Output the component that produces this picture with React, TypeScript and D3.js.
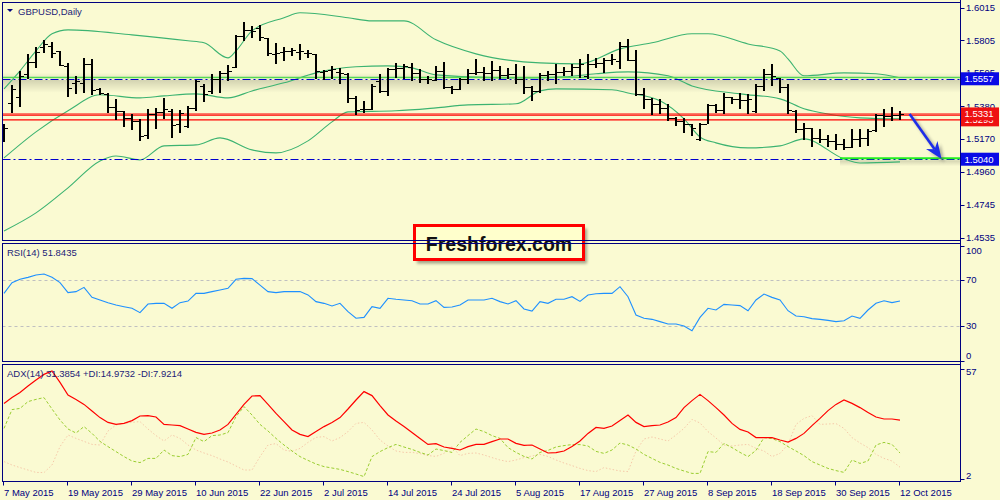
import React, { useEffect } from 'react';
import * as d3 from 'd3';

// ---------- DATA ----------
const symbolTitle = 'GBPUSD,Daily';
const rsiTitle = 'RSI(14) 51.8435';
const adxTitle = 'ADX(14) 31.3854 +DI:14.9732 -DI:7.9214';
const brandText = 'Freshforex.com';

const dateLabels = ['7 May 2015', '19 May 2015', '29 May 2015', '10 Jun 2015', '22 Jun 2015', '2 Jul 2015', '14 Jul 2015', '24 Jul 2015', '5 Aug 2015', '17 Aug 2015', '27 Aug 2015', '8 Sep 2015', '18 Sep 2015', '30 Sep 2015', '12 Oct 2015'];
const dateLabelBars = [0, 8, 16, 24, 32, 40, 48, 56, 64, 72, 80, 88, 96, 104, 112];

const openP = [1.5190,1.5402,1.5441,1.5589,1.5666,1.5762,1.5769,1.5736,1.5640,1.5531,1.5531,1.5653,1.5492,1.5460,1.5376,1.5351,1.5306,1.5286,1.5196,1.5331,1.5344,1.5351,1.5267,1.5254,1.5370,1.5511,1.5479,1.5556,1.5595,1.5634,1.5833,1.5871,1.5884,1.5820,1.5717,1.5730,1.5736,1.5730,1.5724,1.5717,1.5601,1.5614,1.5601,1.5589,1.5434,1.5364,1.5364,1.5544,1.5479,1.5621,1.5627,1.5634,1.5595,1.5556,1.5550,1.5608,1.5505,1.5492,1.5556,1.5595,1.5601,1.5595,1.5614,1.5582,1.5589,1.5556,1.5505,1.5479,1.5582,1.5589,1.5601,1.5608,1.5634,1.5576,1.5653,1.5659,1.5679,1.5672,1.5769,1.5679,1.5460,1.5428,1.5396,1.5370,1.5306,1.5286,1.5267,1.5171,1.5267,1.5389,1.5357,1.5441,1.5428,1.5421,1.5351,1.5511,1.5589,1.5563,1.5505,1.5351,1.5235,1.5241,1.5177,1.5171,1.5158,1.5138,1.5119,1.5171,1.5177,1.5229,1.5325,1.5319,1.5325];
const highP = [1.5267,1.5518,1.5608,1.5717,1.5762,1.5807,1.5794,1.5736,1.5659,1.5576,1.5691,1.5685,1.5499,1.5466,1.5428,1.5351,1.5331,1.5299,1.5364,1.5370,1.5434,1.5364,1.5357,1.5383,1.5550,1.5524,1.5589,1.5608,1.5647,1.5839,1.5923,1.5897,1.5904,1.5820,1.5788,1.5762,1.5756,1.5781,1.5743,1.5717,1.5614,1.5640,1.5627,1.5595,1.5447,1.5415,1.5524,1.5589,1.5627,1.5659,1.5653,1.5659,1.5621,1.5576,1.5640,1.5666,1.5511,1.5563,1.5621,1.5685,1.5634,1.5672,1.5640,1.5627,1.5653,1.5640,1.5511,1.5595,1.5608,1.5653,1.5634,1.5653,1.5685,1.5717,1.5691,1.5691,1.5717,1.5794,1.5814,1.5743,1.5499,1.5434,1.5428,1.5396,1.5312,1.5306,1.5267,1.5274,1.5396,1.5396,1.5466,1.5441,1.5466,1.5460,1.5524,1.5621,1.5653,1.5563,1.5524,1.5357,1.5274,1.5241,1.5235,1.5196,1.5203,1.5171,1.5235,1.5235,1.5235,1.5331,1.5364,1.5376,1.5351];
const lowP = [1.5151,1.5338,1.5376,1.5556,1.5627,1.5724,1.5691,1.5640,1.5441,1.5460,1.5466,1.5454,1.5454,1.5338,1.5293,1.5248,1.5229,1.5158,1.5171,1.5235,1.5299,1.5177,1.5209,1.5241,1.5351,1.5409,1.5460,1.5466,1.5544,1.5627,1.5801,1.5820,1.5801,1.5704,1.5653,1.5672,1.5704,1.5679,1.5691,1.5556,1.5550,1.5556,1.5524,1.5402,1.5325,1.5338,1.5357,1.5466,1.5447,1.5563,1.5556,1.5544,1.5531,1.5524,1.5544,1.5492,1.5460,1.5486,1.5524,1.5582,1.5544,1.5544,1.5556,1.5556,1.5524,1.5460,1.5415,1.5466,1.5544,1.5524,1.5576,1.5576,1.5563,1.5556,1.5627,1.5595,1.5647,1.5621,1.5672,1.5447,1.5364,1.5325,1.5331,1.5286,1.5254,1.5209,1.5190,1.5158,1.5267,1.5338,1.5331,1.5396,1.5364,1.5331,1.5338,1.5479,1.5511,1.5466,1.5331,1.5209,1.5164,1.5119,1.5145,1.5119,1.5100,1.5100,1.5113,1.5119,1.5126,1.5216,1.5248,1.5286,1.5293];
const closeP = [1.5241,1.5492,1.5576,1.5666,1.5730,1.5781,1.5724,1.5647,1.5499,1.5544,1.5653,1.5486,1.5466,1.5376,1.5351,1.5306,1.5286,1.5190,1.5331,1.5344,1.5364,1.5261,1.5338,1.5370,1.5544,1.5460,1.5556,1.5595,1.5608,1.5833,1.5871,1.5865,1.5827,1.5724,1.5724,1.5736,1.5743,1.5736,1.5724,1.5608,1.5608,1.5621,1.5595,1.5434,1.5357,1.5364,1.5511,1.5479,1.5621,1.5627,1.5640,1.5595,1.5556,1.5556,1.5608,1.5505,1.5492,1.5556,1.5595,1.5601,1.5595,1.5614,1.5582,1.5589,1.5556,1.5505,1.5479,1.5582,1.5589,1.5601,1.5608,1.5634,1.5653,1.5653,1.5659,1.5679,1.5685,1.5769,1.5679,1.5460,1.5428,1.5396,1.5370,1.5306,1.5286,1.5267,1.5241,1.5267,1.5389,1.5357,1.5441,1.5428,1.5421,1.5428,1.5511,1.5589,1.5576,1.5505,1.5357,1.5235,1.5241,1.5177,1.5171,1.5158,1.5138,1.5119,1.5171,1.5177,1.5222,1.5325,1.5319,1.5325,1.5331];

// Bollinger bands, read at selected bars
const upperBars = [0,2,4,6,8,16,23,25,28,29,31,35,37,43,46,50,54,59,67,72,77,81,86,88,93,97,98,100,105,109,112];
const upperBand = [1.5492,1.5608,1.5736,1.5846,1.5871,1.5839,1.5801,1.5788,1.5691,1.5736,1.5865,1.5949,1.5981,1.5949,1.5929,1.5929,1.5807,1.5717,1.5659,1.5653,1.5749,1.5788,1.5846,1.5846,1.5781,1.5736,1.5685,1.5576,1.5595,1.5589,1.5563];
const middleBars = [0,4,8,12,17,20,24,28,31,35,39,44,48,51,54,62,66,70,74,78,83,86,92,97,100,103,107,112];
const middleBand = [1.5048,1.5216,1.5351,1.5454,1.5434,1.5447,1.5460,1.5434,1.5479,1.5531,1.5595,1.5634,1.5640,1.5627,1.5582,1.5563,1.5563,1.5569,1.5589,1.5601,1.5576,1.5511,1.5460,1.5428,1.5364,1.5331,1.5306,1.5299];
const lowerBars = [0,4,8,12,14,17,20,24,27,31,34,38,41,43,49,54,58,64,67,69,76,78,82,85,87,89,93,97,100,105,107,112];
const lowerBand = [1.4579,1.4695,1.4856,1.5029,1.5061,1.5036,1.5126,1.5132,1.5177,1.5100,1.5081,1.5158,1.5280,1.5344,1.5351,1.5370,1.5389,1.5396,1.5479,1.5492,1.5486,1.5466,1.5415,1.5299,1.5183,1.5145,1.5113,1.5126,1.5171,1.5042,1.5016,1.5023];

const rsi = [58.4,67.7,70.6,72.3,74.3,75.2,72.3,67.7,59.0,59.9,63.6,54.9,52.6,50.3,48.3,46.8,45.4,41.6,49.1,49.7,49.7,45.4,50.3,51.7,58.4,58.4,59.9,61.3,62.8,70.6,71.4,71.2,65.6,59.9,59.0,59.9,59.9,59.9,57.0,51.2,49.7,47.4,49.7,42.5,36.7,37.5,46.8,45.4,54.1,53.2,52.6,52.0,49.1,49.1,52.0,46.2,46.5,48.3,52.6,52.6,52.6,54.1,51.2,49.1,52.0,44.8,43.0,51.2,49.7,53.2,53.2,55.5,51.4,57.0,58.1,58.4,58.4,64.2,55.5,39.6,36.7,35.8,33.8,31.7,31.7,30.0,25.9,37.5,45.4,43.9,48.8,48.3,47.7,43.3,52.6,57.8,54.9,52.6,43.3,38.7,38.1,36.4,35.8,34.9,33.8,34.6,38.7,36.7,43.9,49.7,52.0,50.3,51.8];
const adx = [39.8,42.7,45.3,48.5,51.5,54.3,56.0,50.3,44.0,41.7,39.3,36.0,32.7,30.3,29.3,29.8,31.2,33.5,33.7,33.0,29.3,29.0,28.7,27.0,25.3,24.3,25.0,26.5,29.3,34.3,39.3,43.5,43.7,39.3,34.8,30.7,26.5,24.3,23.2,25.7,28.2,30.2,32.7,37.0,41.5,45.7,43.7,38.7,34.0,31.0,28.2,25.2,22.3,19.3,19.7,18.0,17.3,16.5,18.2,19.3,19.3,20.7,22.0,22.0,19.8,18.8,19.0,17.0,15.0,15.2,16.0,18.2,21.0,24.8,27.8,27.3,28.5,31.3,34.0,30.3,28.2,28.7,29.0,30.5,32.7,37.7,41.2,44.3,41.2,37.7,34.0,29.8,26.8,25.5,22.7,22.7,22.7,21.5,20.5,22.3,24.8,28.7,32.3,36.2,39.3,41.5,39.8,37.7,35.3,33.0,32.0,32.0,31.4];
const plusDI = [27.3,36.7,37.3,40.7,41.8,42.7,37.0,31.5,27.0,25.0,28.2,24.8,20.8,18.2,15.7,13.2,11.0,10.2,12.3,12.3,16.5,13.7,13.2,14.3,22.7,20.7,23.7,24.0,25.2,33.2,38.2,34.0,29.3,26.0,22.3,19.0,16.0,13.2,11.3,9.5,8.2,7.5,6.8,5.7,4.5,3.2,13.2,15.7,17.7,19.3,18.0,16.8,15.3,14.0,17.0,16.2,15.3,20.3,23.7,27.0,25.7,23.7,22.3,17.7,15.3,13.3,12.0,15.3,16.3,18.0,18.7,19.2,19.2,18.5,15.8,14.8,16.5,20.0,19.0,17.0,14.3,12.3,10.3,9.0,7.3,6.0,4.8,4.8,15.7,15.3,19.8,17.7,15.3,13.2,16.3,22.7,22.2,20.7,18.2,16.0,13.7,10.7,9.0,7.3,6.2,5.3,11.5,9.8,11.0,19.0,20.3,19.3,14.97];
const minusDI = [10.7,9.0,7.7,6.5,5.3,5.2,9.0,18.2,24.0,22.3,20.8,19.3,19.0,26.0,29.0,29.8,30.3,30.7,27.0,23.7,21.0,24.0,22.3,19.0,16.5,15.0,13.7,12.0,10.5,8.5,6.5,6.5,13.2,19.0,19.7,16.5,15.8,17.3,20.3,22.8,23.2,21.0,22.7,25.7,29.8,30.3,26.5,21.5,18.5,16.0,15.3,15.3,14.7,13.7,13.3,14.8,18.2,13.7,14.8,15.0,14.0,12.7,11.5,10.7,11.5,12.7,13.5,14.3,13.3,11.5,10.0,8.7,7.3,6.2,5.7,7.7,6.8,6.0,5.7,16.0,22.0,23.0,22.0,21.0,24.0,27.3,31.8,30.0,25.7,22.5,19.0,18.5,19.0,19.3,17.3,16.0,13.2,14.8,19.3,29.3,32.3,33.7,29.3,29.5,29.7,27.3,22.7,20.0,17.7,14.3,12.3,11.0,7.92];

const priceTicks = [1.6015, 1.5805, 1.5595, 1.5380, 1.5170, 1.4960, 1.4745, 1.4535];
const rsiTicks = [100, 70, 30, 0];
const rsiLevels = [70, 30];
const adxTicks = [57, 2];

const blueLevels = [1.5557, 1.5040];
const greenLevel = 1.5565;
const redLevels = [1.5331, 1.5323, 1.5293];
const supportLevel = { price: 1.5046, fromBar: 104.5 };
const arrowFrom = { bar: 113.2, price: 1.5331 };
const arrowTo = { bar: 117.2, price: 1.5042 };
const axisMarkers = [
  { price: 1.5293, color: '#EE1111' },
  { price: 1.5331, color: '#EE1111' },
  { price: 1.5557, color: '#0A0AE6' },
  { price: 1.5040, color: '#0A0AE6' },
];

// ---------- LAYOUT ----------
const FONT = "'Liberation Sans', Arial, sans-serif";
const NAVY = '#000080';
const BG = '#FAFAD2';
const LEFT = 2.5, RIGHT = 960.5;
const MAIN = { top: 2.5, bottom: 240.5 };
const RSIP = { top: 243.5, bottom: 361.5 };
const ADXP = { top: 364.5, bottom: 481.5 };

export default function App() {
  useEffect(() => {
    document.body.style.margin = '0';
  }, []);

  const x = d3.scaleLinear().domain([0, 112]).range([4, 900]);
  const y = d3.scaleLinear().domain([1.4535, 1.6015]).range([237.8, 7.5]);
  const yR = d3.scaleLinear().domain([0, 100]).range([360.5, 245.5]);
  const yA = d3.scaleLinear().domain([2, 57]).range([479, 369]);
  const fmt = d3.format('.4f');

  const bandLine = (bars: number[], vals: number[]) =>
    d3.line<number>().x((_, i) => x(bars[i])).y((v) => y(v)).curve(d3.curveMonotoneX)(vals) || '';
  const seriesLine = (vals: number[], sc: d3.ScaleLinear<number, number>) =>
    d3.line<number>().x((_, i) => x(i)).y((v) => sc(v))(vals) || '';

  // arrow geometry
  const ax0 = x(arrowFrom.bar), ay0 = y(arrowFrom.price);
  const ax1 = x(arrowTo.bar), ay1 = y(arrowTo.price);
  const len = Math.hypot(ax1 - ax0, ay1 - ay0);
  const ux = (ax1 - ax0) / len, uy = (ay1 - ay0) / len;
  const nx = -uy, ny = ux;
  const headL = 17, headW = 7;
  const bx = ax1 - ux * headL, by = ay1 - uy * headL;
  const nbx = ax1 - ux * (headL - 5), nby = ay1 - uy * (headL - 5);
  const arrowHead = `M${ax1},${ay1} L${bx + nx * headW},${by + ny * headW} L${nbx},${nby} L${bx - nx * headW},${by - ny * headW} Z`;

  const clamp = (v: number, lo: number, hi: number) => Math.max(lo, Math.min(hi, v));

  return (
    <svg width={1000} height={500} style={{ position: 'absolute', left: 0, top: 0, display: 'block' }} fontFamily={FONT}>
      <defs>
        <linearGradient id="shadowDown" x1="0" y1="0" x2="0" y2="1">
          <stop offset="0" stopColor="#000" stopOpacity="0.16" />
          <stop offset="1" stopColor="#000" stopOpacity="0" />
        </linearGradient>
        <linearGradient id="shadowUp" x1="0" y1="1" x2="0" y2="0">
          <stop offset="0" stopColor="#000" stopOpacity="0.07" />
          <stop offset="1" stopColor="#000" stopOpacity="0" />
        </linearGradient>
        <filter id="blur2" x="-20%" y="-20%" width="140%" height="140%">
          <feGaussianBlur stdDeviation="1.6" />
        </filter>
        <clipPath id="mainClip">
          <rect x={LEFT} y={MAIN.top} width={RIGHT - LEFT} height={MAIN.bottom - MAIN.top} />
        </clipPath>
        <clipPath id="rsiClip">
          <rect x={LEFT} y={RSIP.top} width={RIGHT - LEFT} height={RSIP.bottom - RSIP.top} />
        </clipPath>
        <clipPath id="adxClip">
          <rect x={LEFT} y={ADXP.top} width={RIGHT - LEFT} height={ADXP.bottom - ADXP.top} />
        </clipPath>
      </defs>

      <rect x={0} y={0} width={1000} height={500} fill={BG} />

      {/* ===== MAIN PANEL ===== */}
      <g clipPath="url(#mainClip)">
        {/* shadow bands under level lines */}
        <rect x={LEFT} y={y(greenLevel) - 5} width={RIGHT - LEFT} height={5} fill="url(#shadowUp)" />
        <rect x={LEFT} y={y(blueLevels[0]) + 1} width={RIGHT - LEFT} height={13} fill="url(#shadowDown)" />
        <rect x={x(supportLevel.fromBar)} y={y(supportLevel.price) + 2} width={RIGHT - x(supportLevel.fromBar)} height={6} fill="url(#shadowDown)" />

        {/* Bollinger bands */}
        <path d={bandLine(upperBars, upperBand)} fill="none" stroke="#3CB371" strokeWidth={1.1} />
        <path d={bandLine(middleBars, middleBand)} fill="none" stroke="#3CB371" strokeWidth={1.1} />
        <path d={bandLine(lowerBars, lowerBand)} fill="none" stroke="#3CB371" strokeWidth={1.1} />

        {/* level lines */}
        <line x1={LEFT} x2={RIGHT} y1={y(greenLevel)} y2={y(greenLevel)} stroke="#55D855" strokeWidth={1.3} />
        {blueLevels.map((p) => (
          <line key={p} x1={LEFT} x2={RIGHT} y1={Math.round(y(p)) + 0.5} y2={Math.round(y(p)) + 0.5} stroke="#0000CD" strokeWidth={1.2} strokeDasharray="8 3 2 3" />
        ))}
        {redLevels.map((p) => (
          <line key={p} x1={LEFT} x2={RIGHT} y1={y(p)} y2={y(p)} stroke="#FF0000" strokeWidth={1.1} />
        ))}
        <line x1={x(supportLevel.fromBar)} x2={RIGHT} y1={y(supportLevel.price)} y2={y(supportLevel.price)} stroke="#22EE22" strokeWidth={2} />

        {/* OHLC bars */}
        {openP.map((o, i) => {
          const px = Math.round(x(i));
          const oy = Math.round(y(o)) + 0.5;
          const cy = Math.round(y(closeP[i])) + 0.5;
          return (
            <g key={i} stroke="#000" shapeRendering="crispEdges">
              <line x1={px} x2={px} y1={y(highP[i])} y2={y(lowP[i])} strokeWidth={2} />
              <line x1={px - 4} x2={px - 1} y1={oy} y2={oy} strokeWidth={1} />
              <line x1={px + 1} x2={px + 4} y1={cy} y2={cy} strokeWidth={1} />
            </g>
          );
        })}

        {/* arrow */}
        <g transform="translate(3,3)" filter="url(#blur2)" opacity={0.45}>
          <line x1={ax0} y1={ay0} x2={nbx} y2={nby} stroke="#555" strokeWidth={3} />
          <path d={arrowHead} fill="#555" />
        </g>
        <line x1={ax0} y1={ay0} x2={nbx} y2={nby} stroke="#1E2EE8" strokeWidth={2.6} />
        <path d={arrowHead} fill="#1E2EE8" />
      </g>

      {/* title */}
      <path d="M7,9 L13,9 L10,12 Z" fill={NAVY} />
      <text x={18} y={14.5} fontSize={9.5} fill="#1c1c78">{symbolTitle}</text>

      {/* ===== RSI PANEL ===== */}
      <g clipPath="url(#rsiClip)">
        {rsiLevels.map((v) => (
          <line key={v} x1={LEFT} x2={RIGHT} y1={Math.round(yR(v)) + 0.5} y2={Math.round(yR(v)) + 0.5} stroke="#C0C0C0" strokeDasharray="3 3" />
        ))}
        <path d={seriesLine(rsi, yR)} fill="none" stroke="#1E90FF" strokeWidth={1.1} />
      </g>
      <text x={7} y={255.5} fontSize={9.5} fill="#1c1c78">{rsiTitle}</text>

      {/* ===== ADX PANEL ===== */}
      <g clipPath="url(#adxClip)">
        <path d={seriesLine(minusDI, yA)} fill="none" stroke="#F5C9AA" strokeWidth={1} strokeDasharray="1.5 2" />
        <path d={seriesLine(plusDI, yA)} fill="none" stroke="#9ACD32" strokeWidth={1} strokeDasharray="3 2" />
        <path d={seriesLine(adx, yA)} fill="none" stroke="#FF0000" strokeWidth={1.2} />
      </g>
      <text x={7} y={376.5} fontSize={9.5} fill="#1c1c78">{adxTitle}</text>

      {/* Freshforex label */}
      <rect x={417} y={228.5} width={170} height={35} fill="#000" opacity={0.35} filter="url(#blur2)" />
      <rect x={414.5} y={225.5} width={169} height={34} fill="#FFFFCC" stroke="#FF0000" strokeWidth={3} />
      <text x={499} y={250.5} fontSize={19.5} fontWeight="bold" textAnchor="middle" fill="#111">{brandText}</text>

      {/* ===== PANEL FRAMES ===== */}
      <g fill="none" stroke={NAVY} strokeWidth={1} shapeRendering="crispEdges">
        <rect x={LEFT} y={MAIN.top} width={RIGHT - LEFT} height={MAIN.bottom - MAIN.top} />
        <rect x={LEFT} y={RSIP.top} width={RIGHT - LEFT} height={RSIP.bottom - RSIP.top} />
        <rect x={LEFT} y={ADXP.top} width={RIGHT - LEFT} height={ADXP.bottom - ADXP.top} />
        <line x1={RIGHT} x2={RIGHT} y1={0} y2={ADXP.bottom} />
      </g>

      {/* price axis */}
      {priceTicks.map((p) => (
        <g key={p}>
          <line x1={RIGHT} x2={RIGHT + 4} y1={Math.round(y(p)) + 0.5} y2={Math.round(y(p)) + 0.5} stroke={NAVY} />
          <text x={966} y={y(p)} dy="0.35em" fontSize={9.5} fill={NAVY}>{fmt(p)}</text>
        </g>
      ))}
      {axisMarkers.map((m) => (
        <g key={m.price}>
          <rect x={961} y={y(m.price) - 6.5} width={38} height={13} fill={m.color} />
          <text x={964.5} y={y(m.price)} dy="0.36em" fontSize={9.5} fill="#FFFFFF">{fmt(m.price)}</text>
        </g>
      ))}

      {/* RSI axis */}
      {rsiTicks.map((v) => (
        <g key={v}>
          <line x1={RIGHT} x2={RIGHT + 4} y1={Math.round(yR(v)) + 0.5} y2={Math.round(yR(v)) + 0.5} stroke={NAVY} />
          <text x={966} y={clamp(yR(v), 250.5, 356)} dy="0.35em" fontSize={9.5} fill={NAVY}>{v}</text>
        </g>
      ))}

      {/* ADX axis */}
      {adxTicks.map((v) => (
        <g key={v}>
          <line x1={RIGHT} x2={RIGHT + 4} y1={Math.round(yA(v)) + 0.5} y2={Math.round(yA(v)) + 0.5} stroke={NAVY} />
          <text x={966} y={clamp(yA(v), 372, 476)} dy="0.35em" fontSize={9.5} fill={NAVY}>{v}</text>
        </g>
      ))}

      {/* date axis */}
      {dateLabelBars.map((b, k) => {
        const px = Math.round(x(b)) - 0.5;
        return (
          <g key={b}>
            <line x1={px} x2={px} y1={ADXP.bottom} y2={ADXP.bottom + 4} stroke={NAVY} />
            <text x={px + 0.5} y={495.5} fontSize={9.5} fill={NAVY}>{dateLabels[k]}</text>
          </g>
        );
      })}
    </svg>
  );
}
